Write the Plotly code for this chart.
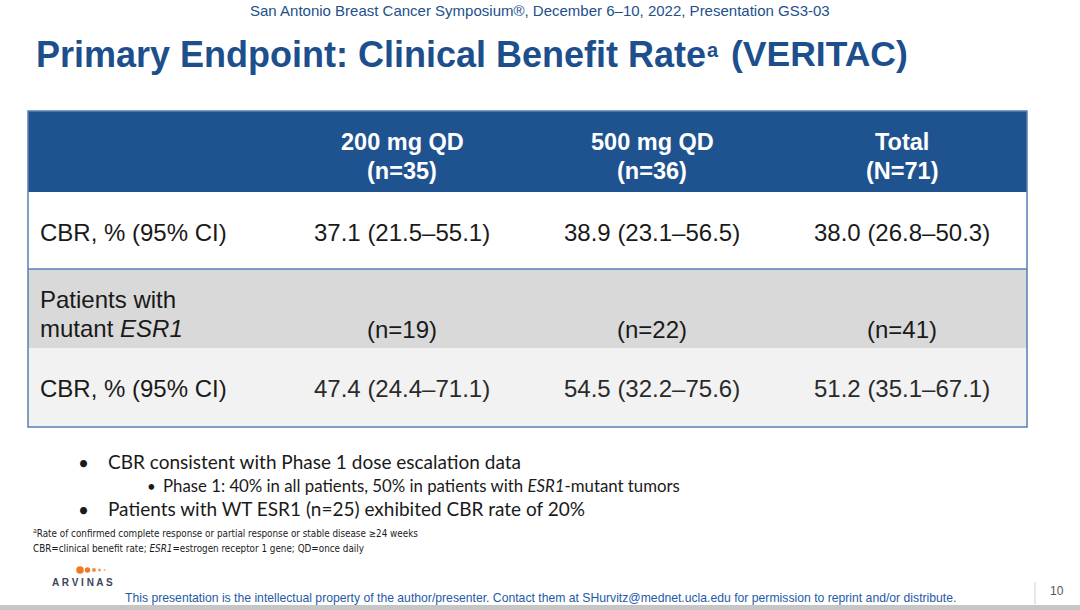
import plotly.graph_objects as go

# ---------------- data ----------------
groups = ["200 mg QD", "500 mg QD", "Total"]
group_n = ["(n=35)", "(n=36)", "(N=71)"]
cbr_all = [37.1, 38.9, 38.0]
cbr_all_lo = [21.5, 23.1, 26.8]
cbr_all_hi = [55.1, 56.5, 50.3]
mut_n = ["(n=19)", "(n=22)", "(n=41)"]
cbr_mut = [47.4, 54.5, 51.2]
cbr_mut_lo = [24.4, 32.2, 35.1]
cbr_mut_hi = [71.1, 75.6, 67.1]
row_label_cbr = "CBR, % (95% CI)"
row_label_mut = ["Patients with", "mutant <i>ESR1</i>"]

subtitle = "San Antonio Breast Cancer Symposium®, December 6–10, 2022, Presentation GS3-03"
title_main = "Primary Endpoint: Clinical Benefit Rate"
title_sup = "a"
title_tail = "(VERITAC)"
bullets = [
    "CBR consistent with Phase 1 dose escalation data",
    "Phase 1: 40% in all patients, 50% in patients with <i>ESR1</i>-mutant tumors",
    "Patients with WT ESR1 (n=25) exhibited CBR rate of 20%",
]
footnotes = [
    "<sup>a</sup>Rate of confirmed complete response or partial response or stable disease ≥24 weeks",
    "CBR=clinical benefit rate; <i>ESR1</i>=estrogen receptor 1 gene; QD=once daily",
]
footer = ("This presentation is the intellectual property of the author/presenter. "
          "Contact them at SHurvitz@mednet.ucla.edu for permission to reprint and/or distribute.")
page_no = "10"
logo_text = "A R V I N A S"

def fmt(v, lo, hi):
    return f"{v:.1f} ({lo:.1f}–{hi:.1f})"

# ---------------- layout constants ----------------
W, H = 1080, 610
ARIAL = "Liberation Sans, Arial, sans-serif"
CAL = "Lato, Carlito, Calibri, sans-serif"
NARROW = "Liberation Sans Narrow, DejaVu Sans Condensed, Arial Narrow, sans-serif"
BLUE = "#1f538f"
BORDER = "#5a7fb3"
TITLE_C = "#1d4f8c"
FS = 24

tx0, tx1 = 28, 1027
col_w = 250
col_centers = [tx1 - col_w * (2.5 - i) for i in range(3)]
y_head, y_r1, y_r2, y_r3, y_end = 111, 192, 269, 348, 427

fig = go.Figure()
shapes = []
ann = []

def A(x, y, text, size, color="#1a1a1a", family=ARIAL, xanchor="center", **kw):
    ann.append(dict(x=x, y=y, xref="x", yref="y", text=text, showarrow=False,
                    xanchor=xanchor, yanchor="middle",
                    font=dict(size=size, color=color, family=family), **kw))

# table backgrounds
shapes.append(dict(type="rect", x0=tx0, x1=tx1, y0=y_head, y1=y_r1, fillcolor=BLUE, line_width=0, layer="below"))
shapes.append(dict(type="rect", x0=tx0, x1=tx1, y0=y_r1, y1=y_r2, fillcolor="#ffffff", line_width=0, layer="below"))
shapes.append(dict(type="rect", x0=tx0, x1=tx1, y0=y_r2, y1=y_r3, fillcolor="#d9d9d9", line_width=0, layer="below"))
shapes.append(dict(type="rect", x0=tx0, x1=tx1, y0=y_r3, y1=y_end, fillcolor="#f2f2f2", line_width=0, layer="below"))
# borders
shapes.append(dict(type="rect", x0=tx0, x1=tx1, y0=y_head, y1=y_end, line=dict(color=BORDER, width=1.5), fillcolor="rgba(0,0,0,0)"))
shapes.append(dict(type="line", x0=tx0, x1=tx1, y0=y_r2, y1=y_r2, line=dict(color=BORDER, width=1.5)))

# header
for i, g in enumerate(groups):
    A(col_centers[i], 142, f"<b>{g}</b>", 23.5, "#ffffff")
    A(col_centers[i], 171, f"<b>{group_n[i]}</b>", 23.5, "#ffffff")

# row 1
A(38, 232, row_label_cbr, FS, xanchor="left")
for i in range(3):
    A(col_centers[i], 232, fmt(cbr_all[i], cbr_all_lo[i], cbr_all_hi[i]), FS)

# row 2
A(38, 299, row_label_mut[0], FS, xanchor="left")
A(38, 328, row_label_mut[1], FS, xanchor="left")
for i in range(3):
    A(col_centers[i], 329, mut_n[i], FS)

# row 3
A(38, 388, row_label_cbr, FS, xanchor="left")
for i in range(3):
    A(col_centers[i], 388, fmt(cbr_mut[i], cbr_mut_lo[i], cbr_mut_hi[i]), FS, color="#2a2a2a")

# titles
A(540, 10, subtitle, 15, color="#22508c")
A(34, 54, f"<b>{title_main}</b>", 36, color=TITLE_C, xanchor="left")
A(705, 50, f"<b>{title_sup}</b>", 20, color=TITLE_C, xanchor="left")
A(729, 54, f"<b>{title_tail}</b>", 35.5, color=TITLE_C, xanchor="left")

# bullets
A(76, 462, "•", 19, family=CAL, xanchor="left")
A(106, 461, bullets[0], 19, family=CAL, xanchor="left")
A(145, 486, "•", 15, family=CAL, xanchor="left")
A(161, 485, bullets[1], 16.8, family=CAL, xanchor="left")
A(76, 509, "•", 19, family=CAL, xanchor="left")
A(106, 508, bullets[2], 19, family=CAL, xanchor="left")

# footnotes
A(31, 533, footnotes[0], 9.8, family=NARROW, xanchor="left")
A(31, 548, footnotes[1], 9.8, family=NARROW, xanchor="left")

# footer
A(540, 598, footer, 12.2, color="#1f5aa6")
A(1057, 591, page_no, 12, color="#555555")
shapes.append(dict(type="line", x0=1035, x1=1035, y0=582, y1=604, line=dict(color="#d0d0d0", width=1)))
shapes.append(dict(type="rect", x0=0, x1=W, y0=605, y1=H, fillcolor="#c6c6c6", line_width=0))

# logo
A(82, 582, f"<b>{logo_text}</b>", 10, color="#3b4656", family="Liberation Sans, Arial")
for cx, r, op in [(80, 3.8, 1.0), (87.5, 2.7, 1.0), (94, 1.9, 0.9), (99.5, 1.4, 0.8), (104.5, 1.0, 0.6)]:
    shapes.append(dict(type="circle", x0=cx - r, x1=cx + r, y0=570 - r, y1=570 + r,
                       fillcolor="#f07a22", line_width=0, opacity=op))

fig.update_layout(
    width=W, height=H, margin=dict(l=0, r=0, t=0, b=0),
    paper_bgcolor="#ffffff", plot_bgcolor="#ffffff",
    xaxis=dict(range=[0, W], visible=False, fixedrange=True),
    yaxis=dict(range=[H, 0], visible=False, fixedrange=True),
    shapes=shapes, annotations=ann, showlegend=False,
)
fig.write_html("out.html", config={"displayModeBar": False},
               post_script="document.body.style.margin='0';document.body.style.overflow='hidden';")
